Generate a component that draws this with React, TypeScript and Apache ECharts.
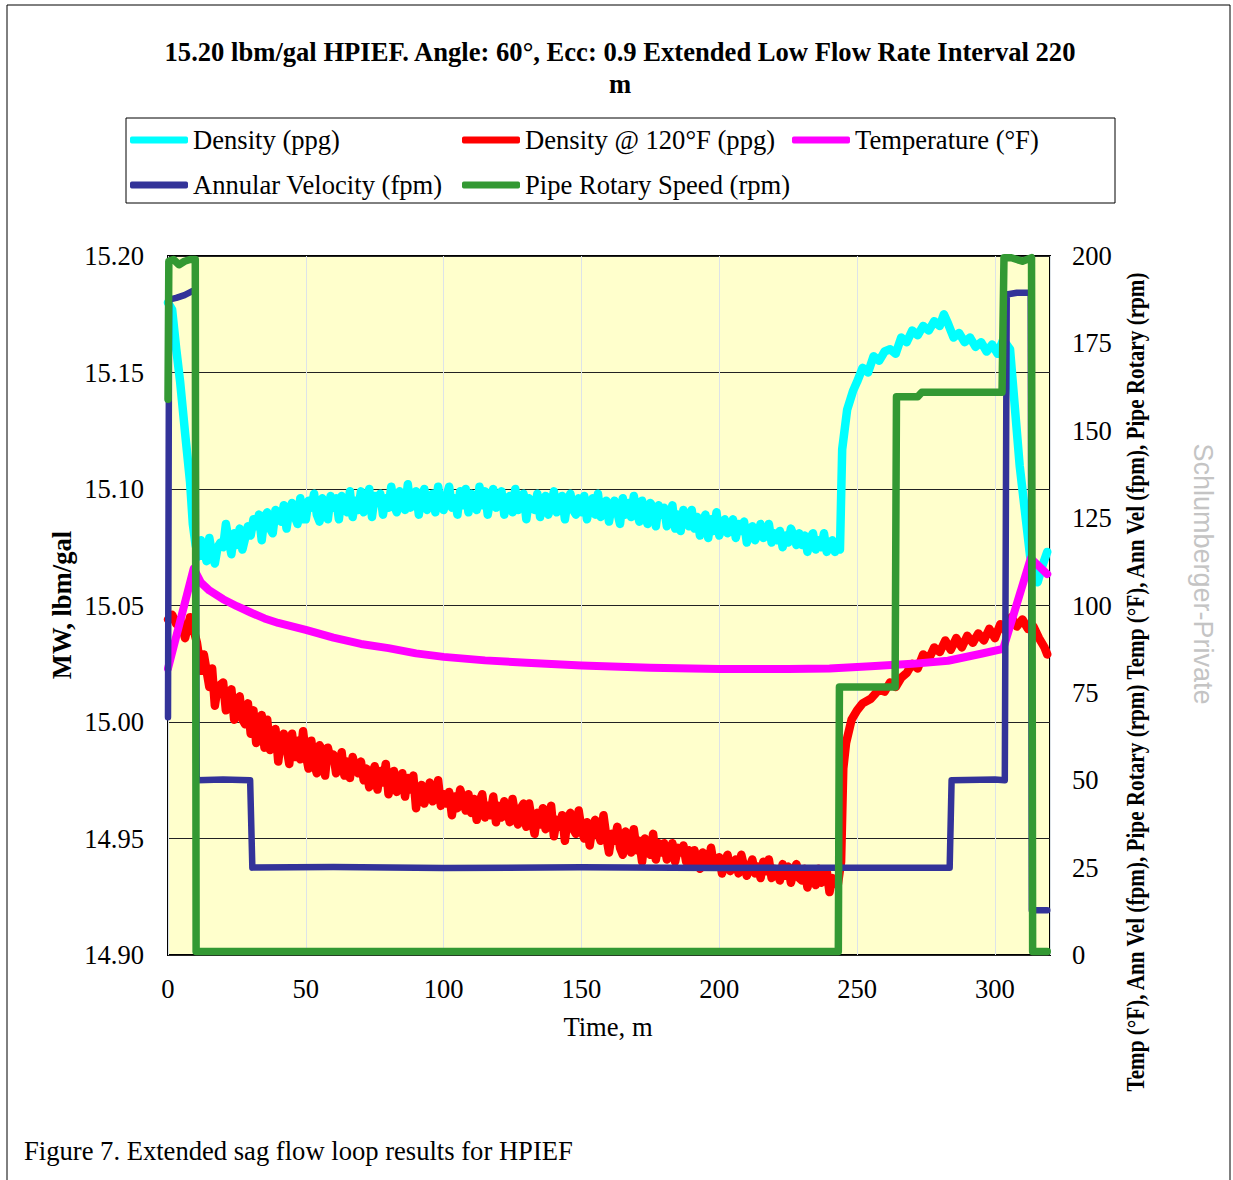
import React, { useEffect, useRef } from "react";
import * as echarts from "echarts";

const FONT = '"Times New Roman", "Liberation Serif", serif';

// ---- Density (ppg), left axis ----
const densityT = [
  0, 1.5, 3, 4.4, 6.2, 8, 9,
  10, 11, 12, 13, 14, 15, 16, 17, 18, 19,
  20, 21, 22, 23, 24, 25, 26, 27, 28, 29,
  30, 31, 32, 33, 34, 35, 36, 37, 38, 39,
  40, 41, 42, 43, 44, 45, 46, 47, 48, 49,
  50, 51, 52, 53, 54, 55, 56, 57, 58, 59,
  60, 61, 62, 63, 64, 65, 66, 67, 68, 69,
  70, 71, 72, 73, 74, 75, 76, 77, 78, 79,
  80, 81, 82, 83, 84, 85, 86, 87, 88, 89,
  90, 91, 92, 93, 94, 95, 96, 97, 98, 99,
  100, 101, 102, 103, 104, 105, 106, 107, 108, 109,
  110, 111, 112, 113, 114, 115, 116, 117, 118, 119,
  120, 121, 122, 123, 124, 125, 126, 127, 128, 129,
  130, 131, 132, 133, 134, 135, 136, 137, 138, 139,
  140, 141, 142, 143, 144, 145, 146, 147, 148, 149,
  150, 151, 152, 153, 154, 155, 156, 157, 158, 159,
  160, 161, 162, 163, 164, 165, 166, 167, 168, 169,
  170, 171, 172, 173, 174, 175, 176, 177, 178, 179,
  180, 181, 182, 183, 184, 185, 186, 187, 188, 189,
  190, 191, 192, 193, 194, 195, 196, 197, 198, 199,
  200, 201, 202, 203, 204, 205, 206, 207, 208, 209,
  210, 211, 212, 213, 214, 215, 216, 217, 218, 219,
  220, 221, 222, 223, 224, 225, 226, 227, 228, 229,
  230, 231, 232, 233, 234, 235, 236, 237, 238, 239,
  240, 241, 242, 243,
  243.8, 244.6, 246.4, 248.5, 250, 252, 254, 256, 258, 260,
  262, 264, 266, 268, 270, 272, 274, 276, 278, 280,
  281.5, 283, 285, 287, 289, 291, 293, 295, 297, 299,
  301, 303, 305.5, 309, 312.8, 315.5, 317.5, 319,
];
const densityV = [
  15.18, 15.177, 15.16, 15.146, 15.124, 15.103, 15.085,
  15.076, 15.071, 15.078, 15.074, 15.069, 15.079, 15.072, 15.068, 15.075, 15.077,
  15.075, 15.085, 15.078, 15.072, 15.081, 15.076, 15.083, 15.074, 15.079, 15.084,
  15.08, 15.087, 15.084, 15.089, 15.078, 15.088, 15.09, 15.083, 15.081, 15.091,
  15.09, 15.086, 15.093, 15.083, 15.091, 15.094, 15.088, 15.085, 15.096, 15.087,
  15.087, 15.095, 15.092, 15.098, 15.089, 15.086, 15.096, 15.094, 15.087, 15.097,
  15.092, 15.096, 15.087, 15.097, 15.094, 15.09, 15.099, 15.088, 15.095, 15.091,
  15.099, 15.09, 15.093, 15.1, 15.088, 15.097, 15.094, 15.098, 15.089, 15.096,
  15.092, 15.101, 15.093, 15.09, 15.099, 15.096, 15.091, 15.102, 15.092, 15.095,
  15.099, 15.089, 15.097, 15.1, 15.091, 15.094, 15.098, 15.09, 15.101, 15.093,
  15.091, 15.097, 15.101, 15.092, 15.096, 15.089, 15.099, 15.093, 15.1, 15.09,
  15.098, 15.095, 15.091, 15.101, 15.093, 15.099, 15.089, 15.096, 15.1, 15.092,
  15.093, 15.099, 15.089, 15.096, 15.097, 15.09, 15.1, 15.091, 15.093, 15.098,
  15.087, 15.096, 15.094, 15.091, 15.098, 15.088, 15.095, 15.097, 15.089, 15.093,
  15.099, 15.09, 15.092, 15.097, 15.087, 15.095, 15.098, 15.091, 15.089, 15.096,
  15.09, 15.097, 15.087, 15.093, 15.096, 15.089, 15.098, 15.088, 15.092, 15.095,
  15.086, 15.093, 15.095, 15.09, 15.085, 15.096, 15.089, 15.094, 15.088, 15.097,
  15.091, 15.086, 15.095, 15.088, 15.085, 15.094, 15.092, 15.084, 15.093, 15.089,
  15.092, 15.084, 15.087, 15.093, 15.083, 15.089, 15.082, 15.091, 15.086, 15.084,
  15.091, 15.083, 15.088, 15.08, 15.086, 15.089, 15.079, 15.087, 15.082, 15.09,
  15.08, 15.084, 15.087, 15.081, 15.082, 15.087, 15.079, 15.085, 15.082, 15.086,
  15.077, 15.082, 15.084, 15.078, 15.081, 15.085, 15.079, 15.08, 15.085, 15.077,
  15.081, 15.078, 15.082, 15.075, 15.08, 15.077, 15.083, 15.08, 15.076, 15.081,
  15.076, 15.08, 15.073, 15.079, 15.081, 15.074, 15.078, 15.075, 15.081, 15.073,
  15.076, 15.078, 15.073, 15.076,
  15.074, 15.117, 15.134, 15.142, 15.146, 15.152, 15.15, 15.157, 15.155, 15.159,
  15.16, 15.158, 15.165, 15.163, 15.168, 15.166, 15.17, 15.168, 15.172, 15.17,
  15.175, 15.171, 15.165, 15.167, 15.163, 15.165, 15.161, 15.163, 15.159, 15.162,
  15.158, 15.164, 15.16, 15.11, 15.071, 15.06, 15.068, 15.073,
];

// ---- Density @ 120°F (ppg), left axis ----
const density120T = [
  0, 1.5, 3, 4.4, 6.2, 7, 8, 9, 10.5,
  12, 13, 14, 15, 16, 17, 18, 19,
  20, 21, 22, 23, 24, 25, 26, 27, 28, 29,
  30, 31, 32, 33, 34, 35, 36, 37, 38, 39,
  40, 41, 42, 43, 44, 45, 46, 47, 48, 49,
  50, 51, 52, 53, 54, 55, 56, 57, 58, 59,
  60, 61, 62, 63, 64, 65, 66, 67, 68, 69,
  70, 71, 72, 73, 74, 75, 76, 77, 78, 79,
  80, 81, 82, 83, 84, 85, 86, 87, 88, 89,
  90, 91, 92, 93, 94, 95, 96, 97, 98, 99,
  100, 101, 102, 103, 104, 105, 106, 107, 108, 109,
  110, 111, 112, 113, 114, 115, 116, 117, 118, 119,
  120, 121, 122, 123, 124, 125, 126, 127, 128, 129,
  130, 131, 132, 133, 134, 135, 136, 137, 138, 139,
  140, 141, 142, 143, 144, 145, 146, 147, 148, 149,
  150, 151, 152, 153, 154, 155, 156, 157, 158, 159,
  160, 161, 162, 163, 164, 165, 166, 167, 168, 169,
  170, 171, 172, 173, 174, 175, 176, 177, 178, 179,
  180, 181, 182, 183, 184, 185, 186, 187, 188, 189,
  190, 191, 192, 193, 194, 195, 196, 197, 198, 199,
  200, 201, 202, 203, 204, 205, 206, 207, 208, 209,
  210, 211, 212, 213, 214, 215, 216, 217, 218, 219,
  220, 221, 222, 223, 224, 225, 226, 227, 228, 229,
  230, 231, 232, 233, 234, 235, 236, 237, 238, 239,
  240, 241, 242, 243,
  244.2, 245, 246, 248, 250, 252, 255, 258, 260,
  262, 264, 266, 268, 270, 272, 274, 276, 278, 280,
  282, 284, 286, 288, 290, 292, 294, 296, 298, 300,
  302, 304, 306, 308, 310, 312, 314, 316, 318, 319,
];
const density120V = [
  15.044, 15.046, 15.042, 15.044, 15.036, 15.04, 15.045, 15.041, 15.034,
  15.022, 15.029, 15.022, 15.015, 15.023, 15.007, 15.015, 15.016,
  15.017, 15.005, 15.008, 15.014, 15.001, 15.007, 15.011, 15.001, 14.999, 15.008,
  14.995, 15.005, 14.991, 14.999, 15.003, 14.989, 15.001, 14.988, 14.993, 14.997,
  14.983, 14.993, 14.995, 14.989, 14.982, 14.995, 14.985, 14.992, 14.984, 14.996,
  14.986, 14.98, 14.992, 14.982, 14.978, 14.99, 14.988, 14.977, 14.989, 14.984,
  14.986, 14.978, 14.981, 14.987, 14.977, 14.983, 14.976, 14.985, 14.98, 14.978,
  14.983, 14.975, 14.98, 14.972, 14.978, 14.981, 14.971, 14.979, 14.974, 14.982,
  14.969, 14.974, 14.979, 14.97, 14.972, 14.978, 14.968, 14.976, 14.971, 14.977,
  14.963, 14.971, 14.973, 14.965, 14.969, 14.974, 14.966, 14.967, 14.975, 14.964,
  14.969, 14.965, 14.97, 14.96, 14.968, 14.963, 14.971, 14.967, 14.962, 14.969,
  14.961, 14.967, 14.958, 14.966, 14.969, 14.959, 14.964, 14.96, 14.968, 14.957,
  14.964, 14.959, 14.966, 14.962, 14.957, 14.967, 14.96, 14.956, 14.963, 14.965,
  14.955, 14.965, 14.958, 14.952, 14.961, 14.956, 14.963, 14.954, 14.959, 14.964,
  14.951, 14.958, 14.955, 14.96, 14.949, 14.959, 14.961, 14.954, 14.952, 14.962,
  14.954, 14.95, 14.957, 14.947, 14.955, 14.958, 14.952, 14.949, 14.96, 14.951,
  14.944, 14.952, 14.949, 14.955, 14.946, 14.943, 14.953, 14.951, 14.944, 14.954,
  14.945, 14.949, 14.94, 14.95, 14.947, 14.943, 14.952, 14.941, 14.948, 14.944,
  14.948, 14.941, 14.943, 14.948, 14.94, 14.946, 14.944, 14.947, 14.94, 14.945,
  14.939, 14.945, 14.94, 14.937, 14.944, 14.942, 14.938, 14.946, 14.939, 14.941,
  14.942, 14.935, 14.94, 14.943, 14.936, 14.938, 14.941, 14.935, 14.943, 14.938,
  14.934, 14.938, 14.941, 14.935, 14.938, 14.933, 14.94, 14.936, 14.941, 14.933,
  14.937, 14.935, 14.932, 14.939, 14.934, 14.938, 14.931, 14.936, 14.939, 14.933,
  14.932, 14.937, 14.929, 14.934, 14.935, 14.93, 14.937, 14.931, 14.932, 14.936,
  14.927, 14.933, 14.932, 14.93,
  14.94, 14.98, 14.991, 15.001, 15.005, 15.008, 15.01, 15.014, 15.013,
  15.017, 15.015, 15.019, 15.021, 15.025, 15.023, 15.029, 15.027, 15.032, 15.03,
  15.035, 15.031, 15.036, 15.032, 15.037, 15.034, 15.038, 15.035, 15.04, 15.036,
  15.042, 15.039, 15.045, 15.041, 15.044, 15.04, 15.041, 15.036, 15.032, 15.029,
];

// ---- Temperature (°F), right axis ----
const tempT = [
  0, 9.3, 10, 12, 15, 20, 25, 30, 35, 40, 50, 60, 70, 80, 90, 100,
  115, 130, 150, 175, 200, 225, 240, 255, 270, 283, 295, 303, 313, 319,
];
const tempV = [
  82, 110.5, 109.5, 106.5, 104.3, 101.8, 99.8, 98, 96.3, 95, 93, 90.8, 89, 87.8, 86.3, 85.3,
  84.3, 83.6, 82.8, 82.2, 81.8, 81.8, 82, 82.6, 83.3, 84.2, 86.2, 87.6, 113.5, 109,
];

// ---- Annular Velocity (fpm), right axis ----
const annVelT = [
  0, 0.4, 3, 6, 9, 9.9, 10.4, 20, 29.8, 30.6, 60, 100, 150, 200, 250,
  283.6, 284.3, 300, 303.6, 304.3, 308, 313, 313.4, 319,
];
const annVelV = [
  68, 187.5, 188, 188.8, 190, 190, 50, 50.2, 50, 25, 25.2, 24.9, 25.1, 24.9, 25,
  25, 50, 50.2, 50, 189, 189.5, 189.5, 12.8, 12.8,
];

// ---- Pipe Rotary Speed (rpm), right axis ----
const rotaryT = [
  0, 0.3, 2, 4, 6, 8, 9.9, 10.2, 243.2, 243.6, 263.8, 264.3, 272, 273.5,
  302.6, 303.3, 306, 310, 313.3, 313.7, 319,
];
const rotaryV = [
  159, 198.5, 199, 197.5, 198.5, 199, 199, 1, 1, 76.7, 76.7, 159.7, 159.7, 161,
  161, 199.5, 199.5, 198.5, 199.5, 1, 1,
];

const seriesNames = [
  "Density (ppg)",
  "Density @ 120°F (ppg)",
  "Temperature (°F)",
  "Annular Velocity (fpm)",
  "Pipe Rotary Speed (rpm)",
];
const seriesColors = ["#00FFFF", "#FF0000", "#FF00FF", "#333399", "#339933"];

function zip(t: number[], v: number[]) {
  const n = Math.min(t.length, v.length);
  const out: number[][] = [];
  for (let i = 0; i < n; i++) out.push([t[i], v[i]]);
  return out;
}

const FS = 26.6;

export default function App() {
  const ref = useRef<HTMLDivElement>(null);
  useEffect(() => {
    if (!ref.current) return;
    const chart = echarts.init(ref.current, null, { renderer: "svg" });
    const legendBase = {
      orient: "horizontal",
      padding: 0,
      itemWidth: 58,
      itemHeight: 7,
      icon: "roundRect",
      selectedMode: false,
      textStyle: { fontFamily: FONT, fontSize: FS, color: "#000", lineHeight: 30 },
    };
    const axisLabelStyle = { fontFamily: FONT, fontSize: FS, color: "#000" };
    const mk = (i: number, data: number[][], yAxisIndex: number, width: number) => ({
      name: seriesNames[i],
      type: "line",
      yAxisIndex,
      data,
      showSymbol: false,
      symbol: "none",
      color: seriesColors[i],
      lineStyle: { width, color: seriesColors[i], cap: "round", join: "round" },
      z: 2 + i,
    });
    chart.setOption({
      animation: false,
      backgroundColor: "#fff",
      grid: {
        left: 168,
        right: 183,
        top: 256,
        bottom: 225,
        show: true,
        backgroundColor: "#FFFFCC",
        borderColor: "#000",
        borderWidth: 2,
      },
      legend: [
        { ...legendBase, data: [seriesNames[0]], left: 130, top: 125 },
        { ...legendBase, data: [seriesNames[1]], left: 462, top: 125 },
        { ...legendBase, data: [seriesNames[2]], left: 792, top: 125 },
        { ...legendBase, data: [seriesNames[3]], left: 130, top: 170 },
        { ...legendBase, data: [seriesNames[4]], left: 462, top: 170 },
      ],
      xAxis: {
        type: "value",
        min: 0,
        max: 320,
        interval: 50,
        axisLine: { show: false },
        axisTick: { show: false },
        axisLabel: {
          ...axisLabelStyle,
          margin: 20,
          formatter: (v: number) => (v % 50 === 0 ? String(v) : ""),
        },
        splitLine: { show: true, lineStyle: { color: "#dde3e8", width: 1 } },
      },
      yAxis: [
        {
          type: "value",
          min: 14.9,
          max: 15.2,
          interval: 0.05,
          axisLine: { show: false },
          axisTick: { show: false },
          axisLabel: { ...axisLabelStyle, margin: 24, formatter: (v: number) => v.toFixed(2) },
          splitLine: { show: true, lineStyle: { color: "#222", width: 1 } },
        },
        {
          type: "value",
          min: 0,
          max: 200,
          interval: 25,
          position: "right",
          axisLine: { show: false },
          axisTick: { show: false },
          axisLabel: { ...axisLabelStyle, margin: 22 },
          splitLine: { show: false },
        },
      ],
      series: [
        mk(0, zip(densityT, densityV), 0, 8.5),
        mk(1, zip(density120T, density120V), 0, 8.5),
        mk(2, zip(tempT, tempV), 1, 8),
        mk(3, zip(annVelT, annVelV), 1, 6.5),
        mk(4, zip(rotaryT, rotaryV), 1, 7.5),
      ],
      graphic: [
        {
          type: "rect",
          shape: { x: 7, y: 5, width: 1223, height: 1200 },
          style: { fill: "none", stroke: "#000", lineWidth: 1 },
          silent: true,
        },
        {
          type: "rect",
          shape: { x: 126, y: 118, width: 989, height: 85 },
          style: { fill: "none", stroke: "#000", lineWidth: 1 },
          silent: true,
        },
        {
          type: "text",
          x: 620,
          y: 52,
          style: {
            text: "15.20 lbm/gal HPIEF. Angle: 60°, Ecc: 0.9 Extended Low Flow Rate Interval 220",
            fontFamily: FONT, fontSize: FS, fontWeight: "bold", fill: "#000",
            align: "center", verticalAlign: "middle",
          },
        },
        {
          type: "text",
          x: 620,
          y: 84,
          style: {
            text: "m",
            fontFamily: FONT, fontSize: FS, fontWeight: "bold", fill: "#000",
            align: "center", verticalAlign: "middle",
          },
        },
        {
          type: "text",
          x: 62,
          y: 605,
          rotation: Math.PI / 2,
          style: {
            text: "MW, lbm/gal",
            fontFamily: FONT, fontSize: FS, fontWeight: "bold", fill: "#000",
            align: "center", verticalAlign: "middle",
          },
        },
        {
          type: "text",
          x: 608,
          y: 1027,
          style: {
            text: "Time, m",
            fontFamily: FONT, fontSize: FS, fill: "#000",
            align: "center", verticalAlign: "middle",
          },
        },
        {
          type: "text",
          x: 1135,
          y: 682,
          rotation: Math.PI / 2,
          scaleX: 0.815,
          style: {
            text: "Temp (°F), Ann Vel (fpm), Pipe Rotary (rpm) Temp (°F), Ann Vel (fpm), Pipe Rotary (rpm)",
            fontFamily: FONT, fontSize: 26, fontWeight: "bold", fill: "#000",
            align: "center", verticalAlign: "middle",
          },
        },
        {
          type: "text",
          x: 1203,
          y: 574,
          rotation: -Math.PI / 2,
          style: {
            text: "Schlumberger-Private",
            fontFamily: '"Liberation Sans", Arial, sans-serif', fontSize: 27, fill: "#c4c4c4",
            align: "center", verticalAlign: "middle",
          },
        },
        {
          type: "text",
          x: 24,
          y: 1151,
          style: {
            text: "Figure 7. Extended sag flow loop results for HPIEF",
            fontFamily: FONT, fontSize: FS, fill: "#000",
            align: "left", verticalAlign: "middle",
          },
        },
      ],
    });
    return () => chart.dispose();
  }, []);
  return (
    <div
      ref={ref}
      style={{ position: "absolute", left: 0, top: 0, width: 1233, height: 1180, background: "#fff" }}
    />
  );
}
